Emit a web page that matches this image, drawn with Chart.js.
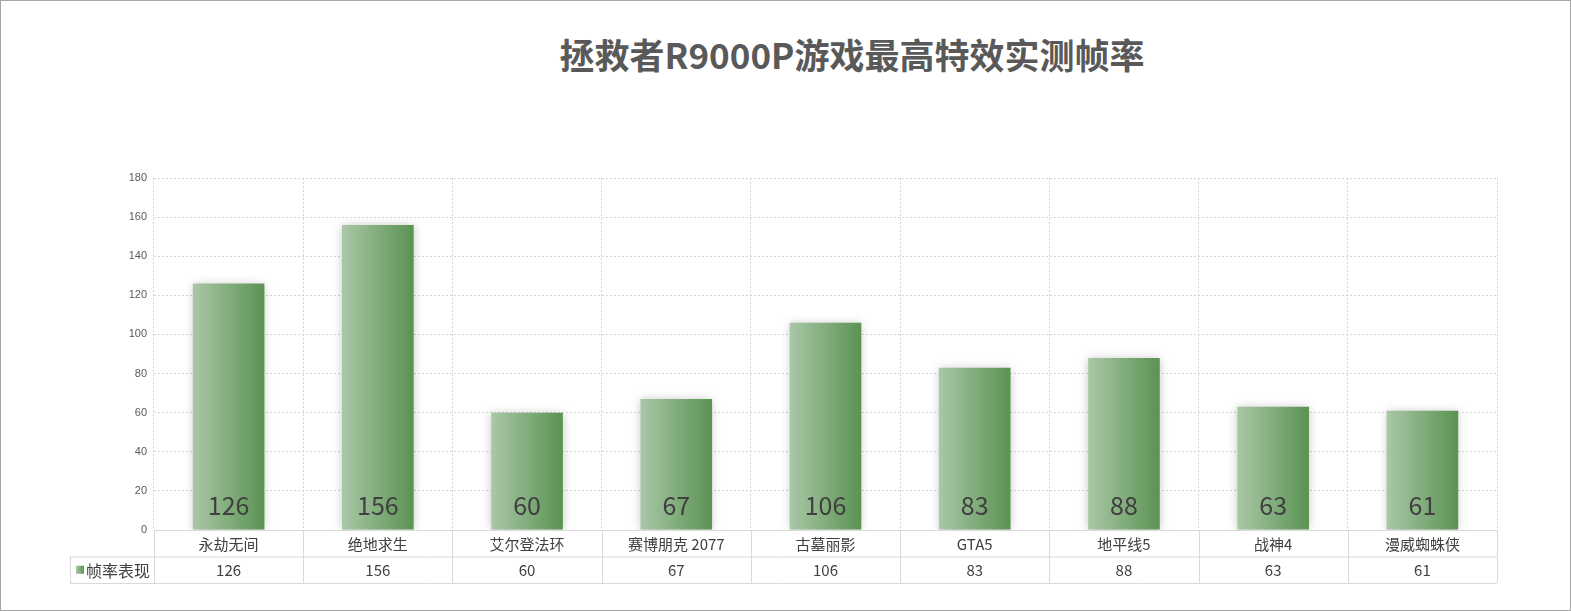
<!DOCTYPE html>
<html>
<head>
<meta charset="utf-8">
<script src="https://cdn.jsdelivr.net/npm/chart.js@4/dist/chart.umd.min.js"></script>
<style>
  html, body { margin: 0; padding: 0; background: #fff; }
  #wrap { position: relative; width: 1571px; height: 611px; box-sizing: border-box; border: 1px solid #a6a6a6; }
  #title { position: absolute; left: 0; top: 27px; width: 1702px; text-align: center;
           font: bold 35px "Noto Sans CJK SC", sans-serif; color: #595959; margin: 0; }
  canvas { position: absolute; left: 0; top: 0; }
</style>
</head>
<body>
<div id="wrap">
  <h1 id="title">拯救者R9000P游戏最高特效实测帧率</h1>
  <canvas id="fpsChart" width="1569" height="609"></canvas>
</div>
<script>
// data
const games = ["永劫无间", "绝地求生", "艾尔登法环", "赛博朋克 2077", "古墓丽影", "GTA5", "地平线5", "战神4", "漫威蜘蛛侠"];
const fps = [126, 156, 60, 67, 106, 83, 88, 63, 61];
const seriesName = "帧率表现";
const yTicks = [0, 20, 40, 60, 80, 100, 120, 140, 160, 180];

const CJK = '"Noto Sans CJK SC", sans-serif';
const BAR_PCT = 0.48;

//per bar gradient, light on the left and dark on the right
function barGradient(ctx) {
    const chart = ctx.chart;
    const x = chart.scales.x;
    if (!chart.chartArea || !x || ctx.dataIndex === undefined) return "#7faa79";
    const catW = (x.right - x.left) / games.length;
    const cx = x.getPixelForValue(ctx.dataIndex);
    const g = chart.ctx.createLinearGradient(cx - catW * BAR_PCT / 2, 0, cx + catW * BAR_PCT / 2, 0);
    g.addColorStop(0, "#aac7a7");
    g.addColorStop(1, "#5a9352");
    return g;
}

//soft shadow round the bars
const barShadow = {
    id: "barShadow",
    beforeDatasetsDraw(chart) {
        const c = chart.ctx;
        c.save();
        c.shadowColor = "rgba(0,0,0,0.22)";
        c.shadowBlur = 9;
        c.shadowOffsetX = 0;
        c.shadowOffsetY = 0;
    },
    afterDatasetsDraw(chart) {
        chart.ctx.restore();
        //value labels at the foot of every bar
        const c = chart.ctx;
        c.save();
        c.font = "25px " + CJK;
        c.fillStyle = "#404040";
        c.textAlign = "center";
        c.textBaseline = "middle";
        chart.getDatasetMeta(0).data.forEach((bar, i) => {
            c.fillText(String(fps[i]), bar.x, bar.base - 24);
        });
        c.restore();
    }
};

//data table under the x axis
const dataTable = {
    id: "dataTable",
    afterDraw(chart) {
        const c = chart.ctx;
        const x = chart.scales.x;
        const top = chart.chartArea.bottom;
        const rowH = 26.5;
        const left = x.left, right = x.right;
        const legendLeft = 69;
        const catW = (right - left) / games.length;
        c.save();
        c.strokeStyle = "#d9d9d9";
        c.lineWidth = 1;
        c.beginPath();
        //horizontal lines
        c.moveTo(left, top + 0.5); c.lineTo(right, top + 0.5);
        c.moveTo(legendLeft, top + rowH + 0.5); c.lineTo(right, top + rowH + 0.5);
        c.moveTo(legendLeft, top + 2 * rowH + 0.5); c.lineTo(right, top + 2 * rowH + 0.5);
        //vertical lines
        for (let i = 0; i <= games.length; i++) {
            const px = Math.round(left + i * catW) + 0.5;
            c.moveTo(px, top); c.lineTo(px, top + 2 * rowH);
        }
        c.moveTo(legendLeft + 0.5, top + rowH); c.lineTo(legendLeft + 0.5, top + 2 * rowH);
        c.stroke();

        c.fillStyle = "#404040";
        c.textAlign = "center";
        c.textBaseline = "middle";
        c.font = "15px " + CJK;
        games.forEach((g, i) => {
            const cx = x.getPixelForValue(i);
            c.fillText(g, cx, top + rowH / 2 + 1);
            c.fillText(String(fps[i]), cx, top + rowH * 1.5 + 1);
        });
        //legend key
        const ky = top + rowH * 1.5 - 4;
        const kg = c.createLinearGradient(75, 0, 83, 0);
        kg.addColorStop(0, "#aac7a7");
        kg.addColorStop(1, "#5a9352");
        c.fillStyle = kg;
        c.fillRect(75, ky, 8, 8);
        c.fillStyle = "#404040";
        c.textAlign = "left";
        c.font = "16px " + CJK;
        c.fillText(seriesName, 85, top + rowH * 1.5 + 1);
        c.restore();
    }
};

new Chart(document.getElementById("fpsChart"), {
    type: "bar",
    data: {
        labels: games,
        datasets: [{
            label: seriesName,
            data: fps,
            backgroundColor: barGradient,
            categoryPercentage: 1,
            barPercentage: BAR_PCT
        }]
    },
    options: {
        responsive: false,
        animation: false,
        layout: { padding: { left: 100, right: 73, top: 177, bottom: 80 } },
        plugins: {
            legend: { display: false },
            tooltip: { enabled: false },
            title: { display: false }
        },
        scales: {
            x: {
                ticks: { display: false },
                grid: { offset: true, color: "#d4d4d4", drawTicks: false },
                border: { display: false, dash: [2, 2] }
            },
            y: {
                min: 0,
                max: 180,
                afterBuildTicks(axis) { axis.ticks = yTicks.map(v => ({ value: v })); },
                afterFit(axis) { axis.width = 53; },
                ticks: { color: "#595959", padding: 7, font: { size: 11, family: "Liberation Sans, Arial, sans-serif" } },
                grid: { color: "#d4d4d4", drawTicks: false },
                border: { display: false, dash: [2, 2] }
            }
        }
    },
    plugins: [barShadow, dataTable]
});
</script>
</body>
</html>
